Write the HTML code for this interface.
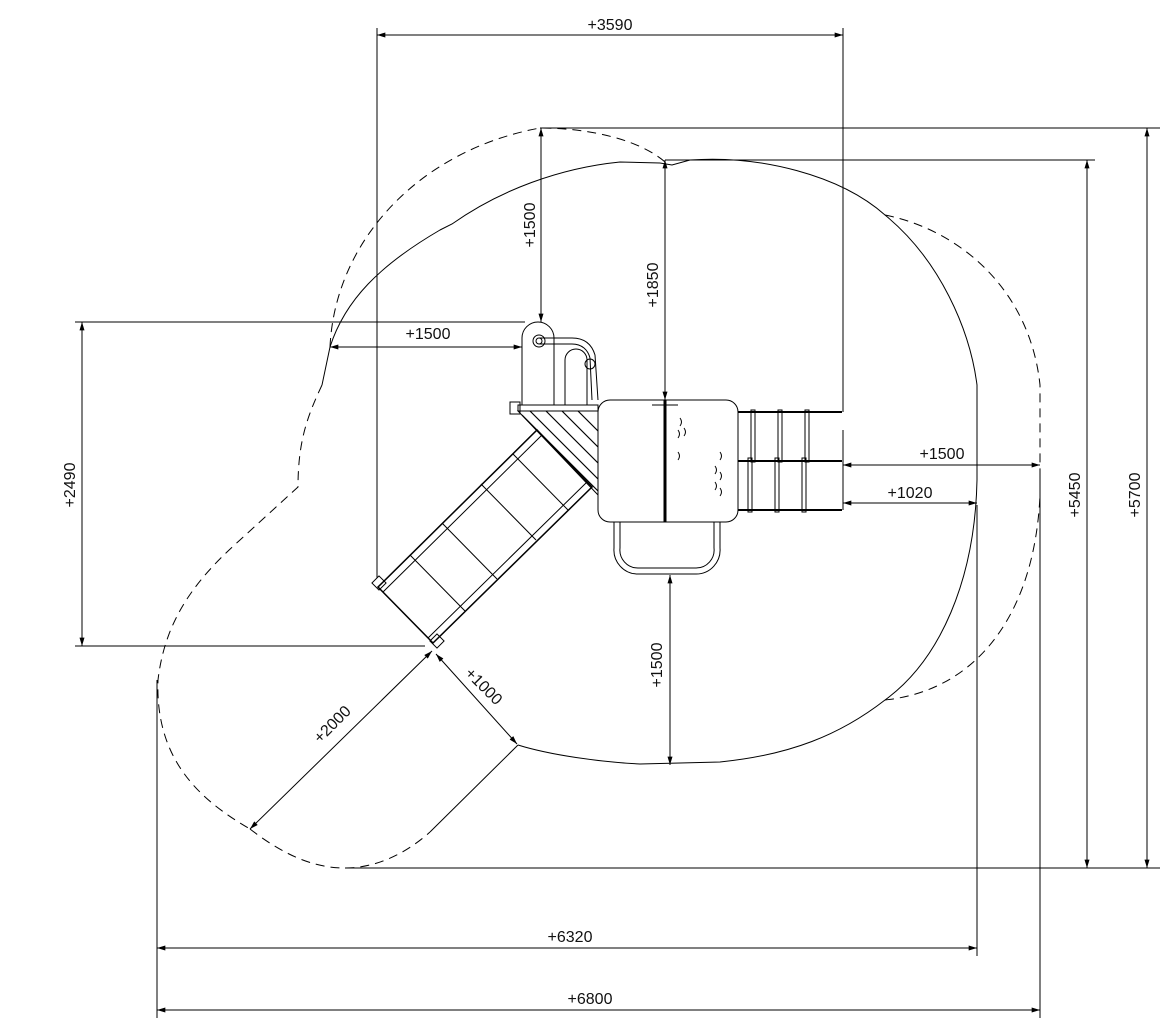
<!DOCTYPE html>
<html><head><meta charset="utf-8"><style>
html,body{margin:0;padding:0;background:#fff;}
svg{display:block;}
text{font-family:"Liberation Sans",sans-serif;font-size:16px;fill:#111;}
</style></head><body>
<svg width="1167" height="1028" viewBox="0 0 1167 1028" xmlns="http://www.w3.org/2000/svg">
<defs>
<marker id="a" viewBox="0 0 10 6" refX="10" refY="3" markerWidth="12" markerHeight="5" orient="auto-start-reverse" markerUnits="userSpaceOnUse"><path d="M0,0 L10,3 L0,6z" fill="#000"/></marker>
</defs>
<g fill="none" stroke="#000" stroke-width="1">
<line x1="377" y1="28" x2="377" y2="578"/>
<line x1="843" y1="28" x2="843" y2="412"/>
<line x1="843" y1="430" x2="843" y2="510"/>
<line x1="540" y1="128" x2="1160" y2="128"/>
<line x1="665" y1="160" x2="1095" y2="160"/>
<line x1="345" y1="868" x2="1160" y2="868"/>
<line x1="157" y1="680" x2="157" y2="1018"/>
<line x1="977" y1="505" x2="977" y2="956"/>
<line x1="1040" y1="470" x2="1040" y2="1018"/>
<line x1="75" y1="322" x2="525" y2="322"/>
<line x1="75" y1="646" x2="425" y2="646"/>
<line x1="377" y1="35" x2="843" y2="35" marker-start="url(#a)" marker-end="url(#a)"/>
<line x1="1147" y1="128" x2="1147" y2="868" marker-start="url(#a)" marker-end="url(#a)"/>
<line x1="1087" y1="160" x2="1087" y2="868" marker-start="url(#a)" marker-end="url(#a)"/>
<line x1="157" y1="948" x2="977" y2="948" marker-start="url(#a)" marker-end="url(#a)"/>
<line x1="157" y1="1010" x2="1040" y2="1010" marker-start="url(#a)" marker-end="url(#a)"/>
<line x1="82" y1="322" x2="82" y2="646" marker-start="url(#a)" marker-end="url(#a)"/>
<line x1="330" y1="347" x2="522" y2="347" marker-start="url(#a)" marker-end="url(#a)"/>
<line x1="541" y1="128" x2="541" y2="322" marker-start="url(#a)" marker-end="url(#a)"/>
<line x1="665" y1="160" x2="665" y2="400" marker-start="url(#a)" marker-end="url(#a)"/>
<line x1="670" y1="575" x2="670" y2="765" marker-start="url(#a)" marker-end="url(#a)"/>
<line x1="843" y1="465" x2="1040" y2="465" marker-start="url(#a)" marker-end="url(#a)"/>
<line x1="843" y1="503" x2="977" y2="503" marker-start="url(#a)" marker-end="url(#a)"/>
<line x1="432" y1="651" x2="250" y2="829" marker-start="url(#a)" marker-end="url(#a)"/>
<line x1="436" y1="654" x2="517" y2="744" marker-start="url(#a)" marker-end="url(#a)"/>
<line x1="518" y1="745" x2="430" y2="832"/>
<path d="M322,385 L330,347 C345,300 380,265 440,230 L452,224 C500,190 560,168 620,162 L660,163 L672,165 L690,160 C760,155 840,175 885,215 C940,260 970,330 977,385 L977,480 C975,580 940,660 885,700 C840,735 790,755 720,762 L640,764 C600,762 550,755 518,745"/>
<path stroke-dasharray="9,6" d="M330,347 C335,240 420,150 540,128 C590,128 640,140 665,162"/>
<path stroke-dasharray="9,6" d="M322,385 C308,415 298,440 298,487 L240,540 C195,580 165,620 158,680 C155,760 200,800 250,829"/>
<path stroke-dasharray="9,6" d="M250,829 C290,860 320,868 345,868 C380,868 410,850 430,832"/>
<path stroke-dasharray="9,6" d="M885,215 C960,230 1030,290 1040,385 L1040,495 C1035,610 980,690 885,700"/>
<path d="M522,405 L522,338 A16,16 0 0 1 554,338 L554,405"/>
<circle cx="539" cy="341" r="6"/><circle cx="539" cy="341" r="3"/>
<path d="M539,338 L572,338 C585,338 592,345 595,355 L598,400"/>
<path d="M539,344 L572,344 C582,344 588,350 590,358 L592,400"/>
<path d="M565,405 L565,360 A11,11 0 0 1 587,360 L587,405"/>
<circle cx="590" cy="364" r="5"/>
<rect x="510" y="402" width="10" height="12"/>
<rect x="518" y="405" width="80" height="6"/>
<path d="M518,411 L598,411 L598,495 Z"/>
<g stroke-width="1.2">
<line x1="530" y1="411" x2="598" y2="479"/>
<line x1="546" y1="411" x2="598" y2="463"/>
<line x1="562" y1="411" x2="598" y2="447"/>
<line x1="578" y1="411" x2="598" y2="431"/>
<line x1="522" y1="415" x2="598" y2="491"/>
</g>
<!-- slide -->
<path d="M537,430 L592,487 L433,643 L378,587 Z" stroke-width="1.5"/>
<line x1="542" y1="435" x2="383" y2="592"/>
<line x1="587" y1="482" x2="428" y2="638"/>
<line x1="513" y1="454" x2="568" y2="510"/>
<line x1="481" y1="484" x2="536" y2="540"/>
<line x1="442" y1="523" x2="497" y2="579"/>
<line x1="410" y1="555" x2="465" y2="611"/>
<rect x="374" y="578" width="10" height="10" transform="rotate(45 379 583)"/>
<rect x="432" y="636" width="10" height="10" transform="rotate(45 437 641)"/>
<rect x="598" y="400" width="140" height="122" rx="12"/>
<line x1="665" y1="400" x2="665" y2="522" stroke-width="3"/>
<line x1="652" y1="405" x2="678" y2="405"/>
<path d="M680,418 q3,4 0,8 M678,430 q3,4 0,8 M684,428 q3,4 0,8 M678,452 q3,4 0,8 M720,452 q3,4 0,8 M715,466 q3,4 0,8 M720,472 q3,4 0,8 M715,482 q3,4 0,8 M720,488 q3,4 0,8"/>
<path d="M614,522 L614,548 A24,24 0 0 0 638,574 L696,574 A24,24 0 0 0 720,548 L720,522"/>
<path d="M620,522 L620,548 A18,18 0 0 0 638,568 L696,568 A18,18 0 0 0 714,548 L714,522"/>
<line x1="738" y1="412" x2="842" y2="412" stroke-width="2"/>
<line x1="738" y1="461" x2="842" y2="461" stroke-width="2"/>
<line x1="738" y1="510" x2="842" y2="510" stroke-width="2"/>
<rect x="751" y="410" width="4" height="52"/><rect x="778" y="410" width="4" height="52"/><rect x="805" y="410" width="4" height="52"/>
<rect x="748" y="458" width="4" height="54"/><rect x="775" y="458" width="4" height="54"/><rect x="802" y="458" width="4" height="54"/>
</g>
<text x="610" y="30" text-anchor="middle">+3590</text>
<text x="428" y="339" text-anchor="middle">+1500</text>
<text x="942" y="459" text-anchor="middle">+1500</text>
<text x="910" y="498" text-anchor="middle">+1020</text>
<text x="570" y="942" text-anchor="middle">+6320</text>
<text x="590" y="1004" text-anchor="middle">+6800</text>
<text transform="translate(535,225) rotate(-90)" text-anchor="middle">+1500</text>
<text transform="translate(658,285) rotate(-90)" text-anchor="middle">+1850</text>
<text transform="translate(662,665) rotate(-90)" text-anchor="middle">+1500</text>
<text transform="translate(75,485) rotate(-90)" text-anchor="middle">+2490</text>
<text transform="translate(1080,495) rotate(-90)" text-anchor="middle">+5450</text>
<text transform="translate(1140,495) rotate(-90)" text-anchor="middle">+5700</text>
<text transform="translate(336,728) rotate(-45)" text-anchor="middle">+2000</text>
<text transform="translate(480,690) rotate(45)" text-anchor="middle">+1000</text>
</svg>
</body></html>
